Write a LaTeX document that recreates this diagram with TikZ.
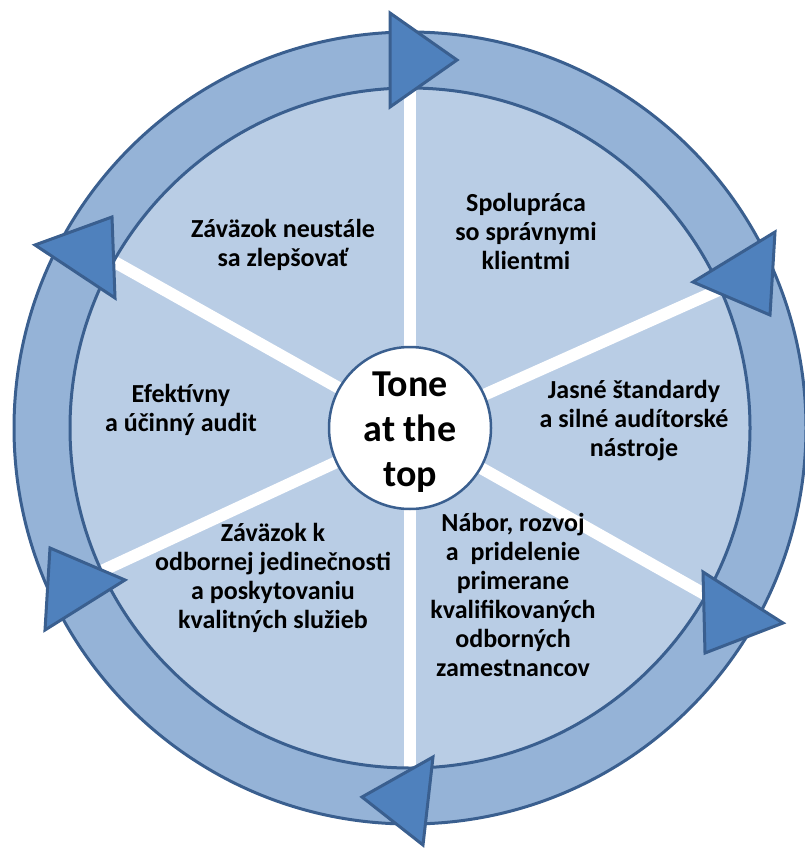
\documentclass[tikz,border=0pt]{standalone}
\usepackage{fontspec}
\setmainfont{Carlito}
\definecolor{ringfill}{HTML}{95B3D7}
\definecolor{diskfill}{HTML}{B9CDE5}
\definecolor{edge}{HTML}{3A5F8F}
\definecolor{headfill}{HTML}{4F81BD}
\begin{document}
\begin{tikzpicture}[x=1pt,y=-1pt,
  label/.style={align=center,font=\fontsize{26}{29}\selectfont\bfseries,text=black,inner sep=0pt},
  head/.style={fill=headfill,draw=edge,line width=3pt,line join=miter},
  spoke/.style={white,line width=12pt}]
\useasboundingbox (0,0) rectangle (805,848);
\coordinate (c) at (410,428);
% inner disk
\fill[diskfill] (c) circle[radius=342pt];
% spokes
\draw[spoke] (c) -- (410,78);
\draw[spoke] (c) -- (410,778);
\draw[spoke] (c) -- (104,256);
\draw[spoke] (c) -- (730,285);
\draw[spoke] (c) -- (715,600);
\draw[spoke] (c) -- (93,575);
% ring
\fill[ringfill,even odd rule] (c) circle[radius=396pt] (c) circle[radius=340pt];
\draw[edge,line width=3pt] (c) circle[radius=396pt];
\draw[edge,line width=3pt] (c) circle[radius=340pt];
% arrow heads
\draw[head] (390,13) -- (390,107) -- (457,60) -- cycle;
\draw[head] (775,232) -- (770,315) -- (693,282) -- cycle;
\draw[head] (703,572) -- (705,653) -- (783,623) -- cycle;
\draw[head] (433,757) -- (423,845) -- (362,797) -- cycle;
\draw[head] (50,548) -- (45,630) -- (125,580) -- cycle;
\draw[head] (112,217) -- (115,298) -- (35,245) -- cycle;
% centre
\node[circle,fill=white,draw=edge,line width=2.5pt,minimum size=162pt,inner sep=0pt] (hub) at (c) {};
\node[align=center,font=\fontsize{38}{45}\selectfont\bfseries,inner sep=0pt] (tone) at (410,432) {Tone\\at the\\top};
% labels
\node[label] (t1) at (283,245) {Záväzok neustále\\sa zlepšovať};
\node[label] (t2) at (526,231) {Spolupráca\\so správnymi\\klientmi};
\node[label] (t3) at (634,421) {Jasné štandardy\\a silné audítorské\\nástroje};
\node[label] (t4) at (513,595) {Nábor, rozvoj\\a\ \ pridelenie\\primerane\\kvalifikovaných\\odborných\\zamestnancov};
\node[label] (t5) at (273,578) {Záväzok k\\odbornej jedinečnosti\\a poskytovaniu\\kvalitných služieb};
\node[label] (t6) at (181,410) {Efektívny\\a účinný audit};
\end{tikzpicture}
\end{document}
